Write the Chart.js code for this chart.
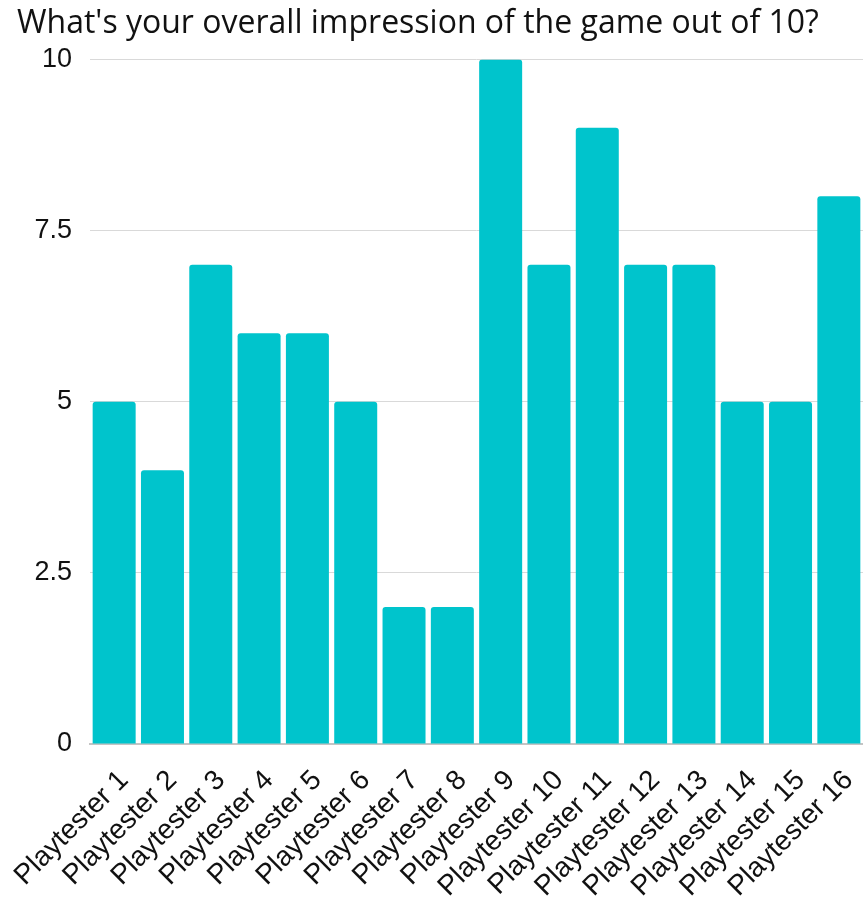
<!DOCTYPE html>
<html>
<head>
<meta charset="utf-8">
<script src="https://cdn.jsdelivr.net/npm/chart.js@4.4.1/dist/chart.umd.min.js"></script>
<style>
  html, body { margin: 0; padding: 0; background: #fff; }
  #wrap { width: 863px; height: 905px; }
</style>
</head>
<body>
<div id="wrap"><canvas id="chart"></canvas></div>
<script>
// ── Data ──────────────────────────────────────────────────────────────
const players = [
    'Playtester 1', 'Playtester 2', 'Playtester 3', 'Playtester 4',
    'Playtester 5', 'Playtester 6', 'Playtester 7', 'Playtester 8',
    'Playtester 9', 'Playtester 10', 'Playtester 11', 'Playtester 12',
    'Playtester 13', 'Playtester 14', 'Playtester 15', 'Playtester 16',
];
const scores = [5, 4, 7, 6, 6, 5, 2, 2, 10, 7, 9, 7, 7, 5, 5, 8];
const yTicks = [0, 2.5, 5, 7.5, 10];

const titleText = "What's your overall impression of the game out of 10?";

// ── Chart ─────────────────────────────────────────────────────────────
new Chart(document.getElementById('chart'), {
    type: 'bar',
    data: {
        labels: players,
        datasets: [{
            data: scores,
            backgroundColor: '#00C4CC',
            borderRadius: { topLeft: 3, topRight: 3 },
            borderSkipped: 'start',
            categoryPercentage: 1,
            barPercentage: 0.89,
        }],
    },
    options: {
        responsive: true,
        maintainAspectRatio: false,
        animation: false,
        layout: { padding: { left: 17, right: 0, top: 0, bottom: 0 } },
        plugins: {
            legend: { display: false },
            tooltip: { enabled: false },
            title: {
                display: true,
                text: titleText,
                align: 'start',
                color: '#111',
                font: { family: 'Open Sans', size: 32, weight: '500' },
                padding: { top: 5, bottom: 16 },
            },
        },
        scales: {
            x: {
                afterFit: axis => {
                    axis.height = 161;
                    axis.paddingLeft = 0;
                    axis.paddingRight = 0;
                },
                grid: { display: false, drawTicks: false },
                border: { display: true, color: '#c4c4c4', width: 2 },
                ticks: {
                    color: '#111',
                    font: { family: 'Liberation Sans', size: 28 },
                    minRotation: 45,
                    maxRotation: 45,
                    autoSkip: false,
                    padding: 20,
                    labelOffset: 10,
                },
            },
            y: {
                min: 0,
                max: 10,
                afterBuildTicks: axis => { axis.ticks = yTicks.map(v => ({ value: v })); },
                afterFit: axis => { axis.width = 73; },
                grid: { color: '#d9d9d9', drawTicks: false, lineWidth: 1 },
                border: { display: false },
                ticks: {
                    color: '#111',
                    font: { family: 'Liberation Sans', size: 27 },
                    padding: 18,
                    callback: v => String(v),
                },
            },
        },
    },
});
</script>
</body>
</html>
